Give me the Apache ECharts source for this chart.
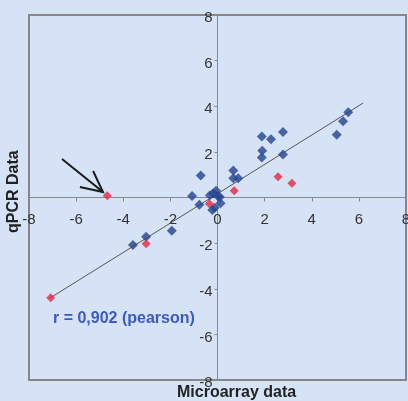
<!DOCTYPE html>
<html>
<head>
<meta charset="utf-8">
<script src="https://cdn.jsdelivr.net/npm/echarts@6/dist/echarts.min.js"></script>
<style>
  html, body { margin: 0; padding: 0; background: #d6e2f6; }
  #chart { width: 408px; height: 401px; }
</style>
</head>
<body>
<div id="chart"></div>
<script>
// microarray (x) vs qPCR (y) log ratios
var bluePoints = [
  [-3.59, -2.08], [-3.03, -1.72], [-1.94, -1.46], [-1.08, 0.07],
  [-0.77, -0.32], [-0.71, 0.96], [-0.32, 0.10], [-0.18, 0.18],
  [-0.06, 0.30], [0.02, 0.05], [0.10, 0.02], [0.13, -0.25],
  [-0.22, -0.55], [-0.12, -0.45], [0.67, 1.18], [0.67, 0.84],
  [0.88, 0.84], [1.88, 2.67], [2.27, 2.55], [2.78, 2.87],
  [1.90, 2.05], [1.88, 1.75], [2.78, 1.89], [5.06, 2.75],
  [5.33, 3.34], [5.55, 3.74]
];
var redPoints = [
  [-7.08, -4.39], [-4.68, 0.08], [-3.03, -2.03], [-0.35, -0.27],
  [0.71, 0.30], [2.57, 0.91], [3.16, 0.62]
];
var trendLine = [[-7.08, -4.39], [6.18, 4.14]];
var axisTicks = [-8, -6, -4, -2, 0, 2, 4, 6, 8];
// arrow pointing at the outlier, in data units
var arrowShaft = [[-6.60, 1.69], [-4.86, 0.24]];
var arrowHead = [[-5.28, 1.16], [-4.86, 0.24], [-5.84, 0.46]];

var chart = echarts.init(document.getElementById("chart"));
var font = "Liberation Sans, Arial, sans-serif";
var gridBox = { left: 29, right: 2, top: 15, bottom: 21 };

var option = {
  backgroundColor: "#d6e2f6",
  animation: false,
  grid: {
    left: gridBox.left, right: gridBox.right, top: gridBox.top, bottom: gridBox.bottom,
    containLabel: false,
    outerBoundsMode: "none",
    show: true,
    borderColor: "#878787",
    borderWidth: 2,
    backgroundColor: "transparent"
  },
  xAxis: {
    type: "value",
    min: axisTicks[0],
    max: axisTicks[axisTicks.length - 1],
    interval: 2,
    axisLine: { onZero: false, lineStyle: { color: "#8a8a8a", width: 1 } },
    axisTick: { show: true, length: 4, lineStyle: { color: "#8a8a8a" } },
    axisLabel: {
      margin: 15, color: "#333", fontSize: 15, fontFamily: font,
      showMinLabel: true, showMaxLabel: true
    },
    splitLine: { show: false }
  },
  yAxis: {
    type: "value",
    min: axisTicks[0],
    max: axisTicks[axisTicks.length - 1],
    interval: 2,
    axisLine: { onZero: false, lineStyle: { color: "#8a8a8a", width: 1 } },
    axisTick: { show: true, length: 3, lineStyle: { color: "#8a8a8a" } },
    axisLabel: {
      margin: 5, color: "#333", fontSize: 15, fontFamily: font,
      verticalAlign: "top", lineHeight: 6,
      showMinLabel: true, showMaxLabel: true,
      formatter: function (v) { return v === 0 ? "" : String(v); }
    },
    splitLine: { show: false }
  },
  series: [
    {
      type: "line",
      data: trendLine,
      symbol: "none",
      lineStyle: { color: "#555", width: 1 },
      z: 1
    },
    {
      type: "scatter",
      data: bluePoints,
      symbol: "diamond",
      symbolSize: 10,
      itemStyle: { color: "#24448f" },
      z: 3
    },
    {
      type: "scatter",
      data: redPoints,
      symbol: "diamond",
      symbolSize: 9,
      itemStyle: { color: "#e8263f" },
      z: 3
    }
  ]
};

chart.setOption(option);

function px(p) {
  return chart.convertToPixel({ gridIndex: 0 }, p);
}

// move both axes (line, ticks and labels) through the origin
var origin = px([0, 0]);
var bottomY = 401 - gridBox.bottom;

chart.setOption({
  xAxis: { offset: origin[1] - bottomY },
  yAxis: { offset: gridBox.left - origin[0] }
});

chart.setOption({
  graphic: [
    {
      type: "polyline",
      shape: { points: arrowShaft.map(px) },
      style: { stroke: "#1a1a1a", lineWidth: 2, fill: null },
      z: 10
    },
    {
      type: "polyline",
      shape: { points: arrowHead.map(px) },
      style: { stroke: "#1a1a1a", lineWidth: 2, fill: null },
      z: 10
    },
    {
      type: "text",
      left: 53, top: 311,
      style: {
        text: "r = 0,902 (pearson)",
        fill: "#3b5bc2",
        font: "bold 16px " + font
      },
      z: 10
    },
    {
      type: "text",
      left: 177, top: 385,
      style: {
        text: "Microarray data",
        fill: "#222",
        font: "bold 16px " + font
      },
      z: 10
    },
    {
      type: "text",
      x: 6, y: 233,
      rotation: Math.PI / 2,
      style: {
        text: "qPCR Data",
        fill: "#222",
        font: "bold 16px " + font
      },
      z: 10
    }
  ]
});
</script>
</body>
</html>
